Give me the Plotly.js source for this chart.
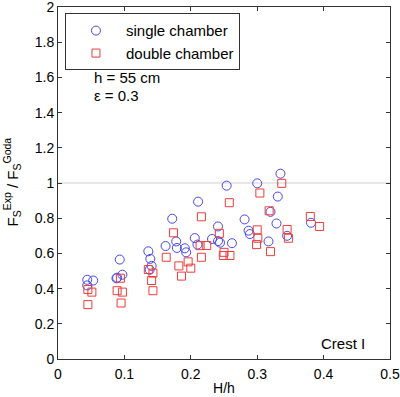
<!DOCTYPE html>
<html>
<head>
<meta charset="utf-8">
<script src="https://cdn.plot.ly/plotly-3.0.1.min.js"></script>
<style>html,body{margin:0;padding:0;background:#fff;}#chart{width:400px;height:397px;}</style>
</head>
<body>
<div id="chart"></div>
<script>
// single chamber (blue circles)
var singleX = [0.044,0.053,0.044,0.093,0.089,0.097,0.088,0.136,0.139,0.141,0.138,0.162,0.172,0.178,0.179,0.191,0.193,0.206,0.210,0.211,0.232,0.241,0.241,0.244,0.254,0.262,0.281,0.287,0.289,0.300,0.335,0.331,0.320,0.329,0.317,0.345,0.381];
var singleY = [0.450,0.446,0.418,0.565,0.462,0.479,0.458,0.612,0.569,0.529,0.507,0.642,0.797,0.668,0.631,0.629,0.606,0.687,0.650,0.894,0.682,0.753,0.670,0.661,0.985,0.658,0.793,0.729,0.710,0.998,1.053,0.923,0.836,0.770,0.668,0.700,0.774];
// double chamber (red squares)
var doubleX = [0.045,0.051,0.045,0.089,0.097,0.095,0.094,0.136,0.143,0.141,0.143,0.163,0.174,0.182,0.186,0.196,0.200,0.216,0.216,0.214,0.224,0.243,0.258,0.250,0.249,0.259,0.304,0.337,0.318,0.300,0.301,0.299,0.320,0.345,0.347,0.380,0.394];
var doubleY = [0.395,0.380,0.309,0.388,0.380,0.318,0.459,0.508,0.488,0.446,0.388,0.578,0.717,0.529,0.471,0.552,0.516,0.808,0.578,0.644,0.645,0.714,0.888,0.606,0.588,0.588,0.943,0.998,0.842,0.734,0.686,0.650,0.610,0.736,0.686,0.810,0.753];
var seriesNames = ['single chamber', 'double chamber'];
var xTicks = [0, 0.1, 0.2, 0.3, 0.4, 0.5];
var yTicks = [0, 0.2, 0.4, 0.6, 0.8, 1, 1.2, 1.4, 1.6, 1.8, 2];
var refLevel = 1;

var FONT = 'Liberation Sans, Arial, sans-serif';
var traces = [
  {x: singleX, y: singleY, name: seriesNames[0], type: 'scatter', mode: 'markers',
   marker: {symbol: 'circle-open', size: 9, color: 'rgb(70,70,235)', line: {width: 1, color: 'rgb(70,70,235)'}}},
  {x: doubleX, y: doubleY, name: seriesNames[1], type: 'scatter', mode: 'markers',
   marker: {symbol: 'square-open', size: 8, color: 'rgb(240,60,60)', line: {width: 1, color: 'rgb(240,60,60)'}}}
];
var axisCommon = {
  showgrid: false, zeroline: false, showline: true, mirror: 'ticks',
  linecolor: '#333', linewidth: 1, ticks: 'inside', ticklen: 4, tickcolor: '#333',
  ticklabeloverflow: 'allow',
  tickfont: {family: FONT, size: 14, color: '#000'}
};
var layout = {
  width: 400, height: 397,
  margin: {l: 58, r: 10, t: 7, b: 38},
  paper_bgcolor: '#fff', plot_bgcolor: '#fff',
  showlegend: true,
  xaxis: Object.assign({}, axisCommon, {range: [0, 0.5], tickvals: xTicks, ticktext: xTicks.map(String),
    ticklabelstandoff: 2,
    title: {text: 'H/h', font: {family: FONT, size: 14, color: '#000'}, standoff: 2}}),
  yaxis: Object.assign({}, axisCommon, {range: [0, 2], tickvals: yTicks, ticktext: yTicks.map(String)}),
  legend: {x: 0.021, y: 0.982, xanchor: 'left', yanchor: 'top', bgcolor: '#fff',
    bordercolor: '#333', borderwidth: 1, itemwidth: 50, font: {family: FONT, size: 15, color: '#000'},
    tracegroupgap: 0},
  shapes: [{type: 'line', xref: 'paper', x0: 0, x1: 1, yref: 'y', y0: refLevel, y1: refLevel,
    line: {color: '#cfcfcf', width: 1}, layer: 'below'}],
  annotations: [
    {text: 'h = 55 cm', xref: 'paper', yref: 'paper', x: (92-58)/332, y: (359-77)/352, xanchor: 'left', yanchor: 'middle', showarrow: false, font: {family: FONT, size: 15, color: '#000'}},
    {text: 'ε = 0.3', xref: 'paper', yref: 'paper', x: (92-58)/332, y: (359-96)/352, xanchor: 'left', yanchor: 'middle', showarrow: false, font: {family: FONT, size: 15, color: '#000'}},
    {text: 'Crest I', xref: 'paper', yref: 'paper', x: (367-58)/332, y: (359-343)/352, xanchor: 'right', yanchor: 'middle', showarrow: false, font: {family: FONT, size: 15, color: '#000'}},
    {text: 'F<sub>S</sub><sup>Exp</sup> / F<sub>S</sub><sup>Goda</sup>', xref: 'paper', yref: 'paper', x: -58/332, xshift: -1, y: (359-182)/352, xanchor: 'left', yanchor: 'middle', textangle: -90, showarrow: false, font: {family: FONT, size: 15, color: '#000'}}
  ]
};
Plotly.newPlot('chart', traces, layout, {displayModeBar: false, staticPlot: true});
</script>
</body>
</html>
